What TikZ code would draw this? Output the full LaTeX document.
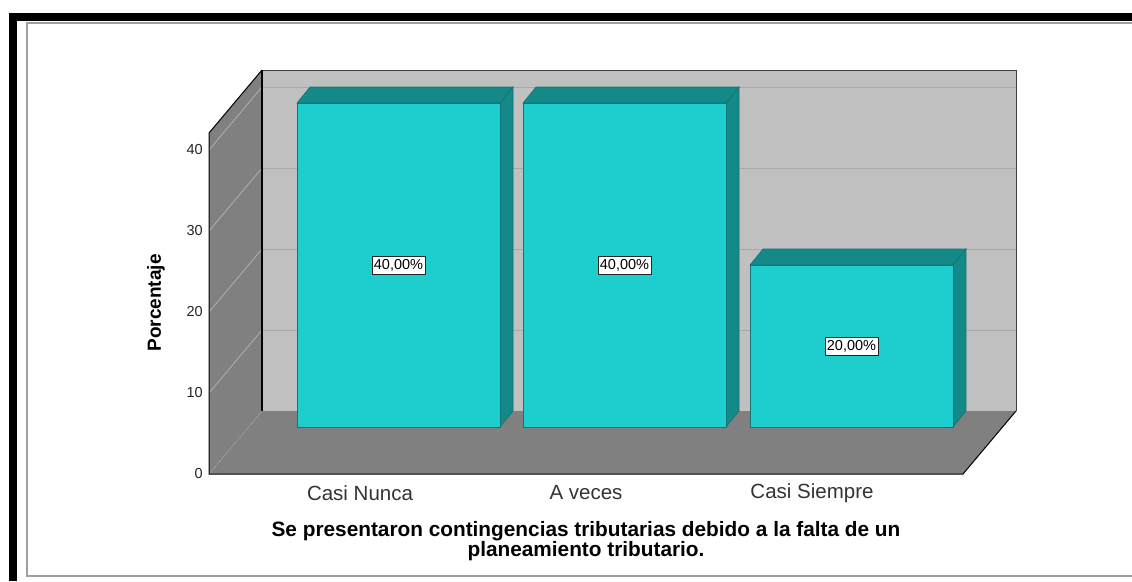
\documentclass[tikz,border=0pt]{standalone}
\usepackage{fontspec}
\setmainfont{Liberation Sans}
\definecolor{barfront}{RGB}{30,206,206}
\definecolor{barside}{RGB}{21,136,136}
\definecolor{backwall}{RGB}{192,192,192}
\definecolor{sidewall}{RGB}{128,128,128}
\definecolor{gridback}{RGB}{168,168,168}
\definecolor{gridside}{RGB}{176,176,176}
\begin{document}
\begin{tikzpicture}[x=1pt, y=-1pt,
    barlabel/.style={draw=black!85, fill=white, inner xsep=2pt, inner ysep=3pt, font=\fontsize{14.5}{15}\selectfont},
    ticklabel/.style={anchor=east, inner sep=0pt, font=\fontsize{14.5}{15}\selectfont, text=black!85},
    catlabel/.style={font=\fontsize{20.5}{21}\selectfont, text=black!80},
    barface/.style={draw=barside!85!black, line width=0.6pt}]
  \useasboundingbox (0,0) rectangle (1132,581);
  % Frame
  \fill[white] (0,0) rectangle (1132,581);
  \fill[black] (9,13) rectangle (17,581);
  \fill[black] (9,13) rectangle (1132,21);
  \draw[gray!75, line width=1.6pt] (1132,23) -- (27,23) -- (27,576) -- (1132,576);

  % Back wall
  \fill[backwall] (262,70) rectangle (1016,411);
  \foreach \v in {1,...,4}
    \draw[gridback, line width=0.8pt] (262,411-81*\v) -- (1016,411-81*\v);
  \draw[black!75, line width=1pt] (262,411) -- (262,70) -- (1016,70) -- (1016,411);

  % Left wall
  \fill[sidewall] (209,133) -- (262,70) -- (262,411) -- (209,474) -- cycle;
  \foreach \v in {1,...,4}
    \draw[gridside, line width=0.8pt] (209,474-81*\v) -- (262,411-81*\v);

  % Floor
  \fill[sidewall] (209,474) -- (262,411) -- (1016,411) -- (963,474) -- cycle;
  \draw[gridside, line width=0.6pt, densely dotted] (209,474) -- (262,411);
  \draw[black, line width=1pt] (262,70) -- (209,133) -- (209,474) -- (963,474) -- (1016,411);
  \draw[black, line width=1.4pt] (262,70) -- (262,411);

  % Bars
  \foreach \x/\t/\p [count=\i] in {297/103/{40,00\%}, 523/103/{40,00\%}, 750/265/{20,00\%}} {
    \filldraw[fill=barside, barface] (\x+203,\t) -- (\x+216,\t-16) -- (\x+216,411) -- (\x+203,427) -- cycle;
    \filldraw[fill=barside, barface] (\x,\t) -- (\x+13,\t-16) -- (\x+216,\t-16) -- (\x+203,\t) -- cycle;
    \filldraw[fill=barfront, barface] (\x,\t) rectangle (\x+203,427);
    \node[barlabel] (val\i) at (\x+101.5,{(427+\t)/2}) {\p};
  }

  % Axis
  \foreach \v in {0,...,4} {
    \pgfmathtruncatemacro{\val}{10*\v}
    \node[ticklabel] (tick\v) at (203,474-81*\v) {\val};
  }
  \node[rotate=90, font=\bfseries\fontsize{19}{19}\selectfont] (ylabel) at (156,303) {Porcentaje};

  % Categories
  \node[catlabel] (cat1) at (360,493) {Casi Nunca};
  \node[catlabel] (cat2) at (586,493) {A veces};
  \node[catlabel] (cat3) at (812,493) {Casi Siempre};
  \node[align=center, font=\bfseries\fontsize{20.8}{16.5}\selectfont] (title) at (586,541)
    {Se presentaron contingencias tributarias debido a la falta de un\\planeamiento tributario.};
\end{tikzpicture}
\end{document}
